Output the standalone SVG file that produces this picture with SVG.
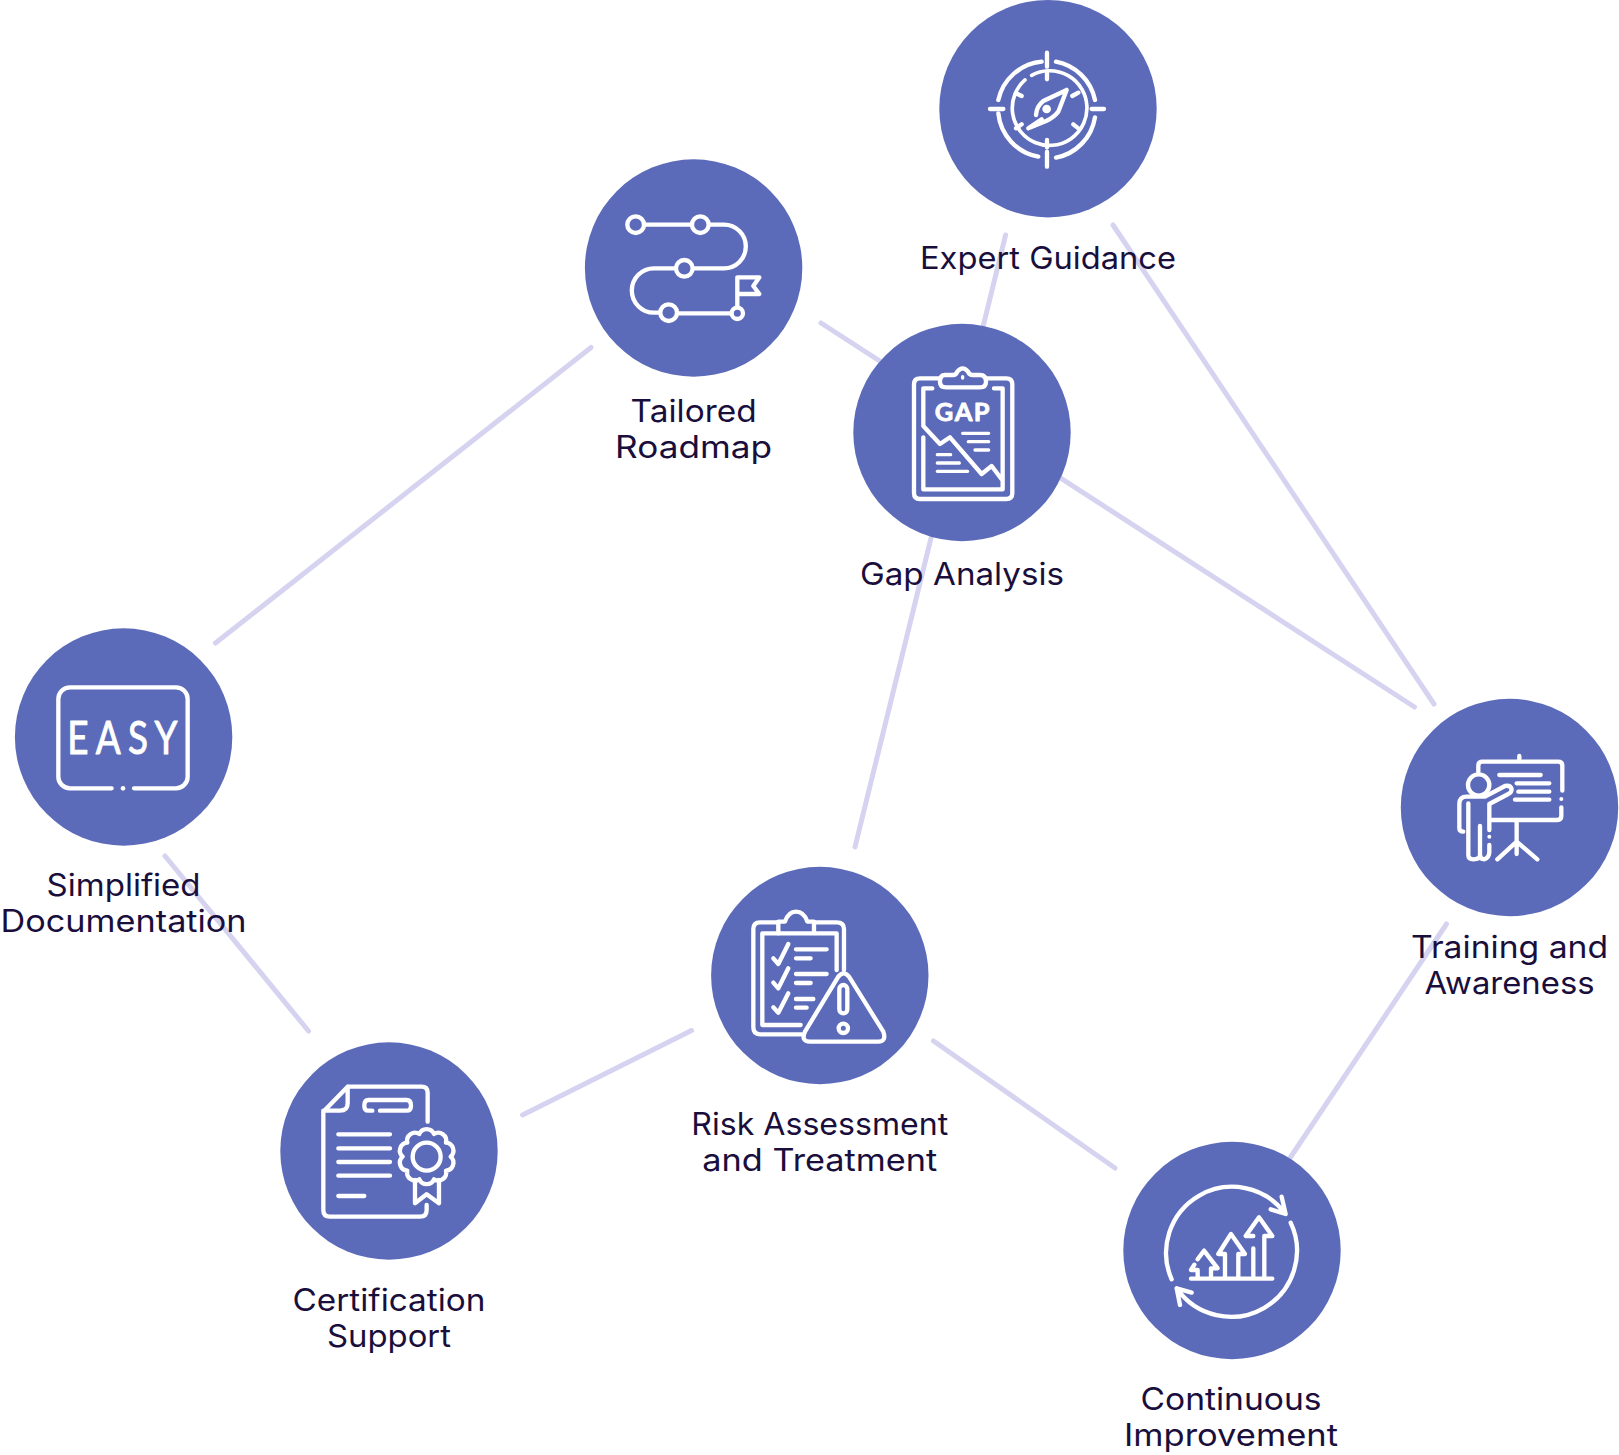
<svg xmlns="http://www.w3.org/2000/svg" width="1619" height="1455" viewBox="0 0 1619 1455">
<style>
.bg{fill:#fff}
.c{fill:#5c6bb9}
.conn line{stroke:#d5d3f0;stroke-width:5;stroke-linecap:round}
.i{fill:none;stroke:#fff;stroke-width:13;stroke-linecap:round;stroke-linejoin:round}
.d{fill:#fff;stroke:none}
.t{font-family:Inter,"Liberation Sans",sans-serif;font-size:31px;fill:#1a0f3c;text-anchor:middle}
.g{font-family:Lato,"Liberation Sans",sans-serif;fill:#fff;text-anchor:middle;stroke:#fff;stroke-linejoin:round}
</style>
<rect class="bg" width="1619" height="1455"/>
<g id="connectors" class="conn">
<line x1="1005.6" y1="235" x2="855" y2="847"/>
<line x1="1113" y1="225" x2="1434" y2="704"/>
<line x1="821" y1="323" x2="1414.5" y2="707"/>
<line x1="591" y1="347.5" x2="215.5" y2="643"/>
<line x1="165" y1="856" x2="308.5" y2="1031"/>
<line x1="522.5" y1="1115" x2="691.5" y2="1030.5"/>
<line x1="933.5" y1="1041" x2="1115" y2="1168"/>
<line x1="1446.5" y1="924" x2="1290" y2="1158"/>
</g>
<g id="expert-guidance">
<circle class="c" cx="1048" cy="108.7" r="108.7"/>
<g transform="translate(930 0) scale(.3333)" class="i">
<path d="M205,300A147,147 0 0 1 335,185M378,185A147,147 0 0 1 495,300M495,352A147,147 0 0 1 378,473M325,470A147,147 0 0 1 205,340"/>
<path d="M285,240A112,112 0 1 0 305,226" stroke-width="11"/>
<path d="M351,158V200M351,455V500M180,327H220M485,327H522M351,215V238M351,420V442M258,280L275,288M427,288L445,278M258,385L275,373M430,373L445,385"/>
<path d="M410,270L340,303Q320,318 318,345M410,270L385,335Q372,352 350,362L295,385M295,385L335,358"/>
<circle class="d" cx="350" cy="327" r="13"/>
</g>
<text class="t" x="1048" y="269" textLength="256" lengthAdjust="spacingAndGlyphs">Expert Guidance</text>
</g>
<g id="tailored-roadmap">
<circle class="c" cx="693.6" cy="268" r="108.7"/>
<g transform="translate(580 150) scale(.3333)" class="i">
<circle cx="167" cy="224" r="25"/><circle cx="361" cy="224" r="25"/><circle cx="313" cy="355" r="25"/><circle cx="266" cy="488" r="25"/><circle cx="472" cy="490" r="17"/>
<path d="M195,224H333M389,224H432A65.5,65.5 0 0 1 432,355H341M285,355H222A66.5,66.5 0 0 0 222,488H238M294,490H452M472,470V382H538L520,408L538,432H472"/>
</g>
<text class="t" x="693.6" y="421.5" textLength="126" lengthAdjust="spacingAndGlyphs">Tailored</text>
<text class="t" x="693.6" y="457.5" textLength="157" lengthAdjust="spacingAndGlyphs">Roadmap</text>
</g>
<g id="gap-analysis">
<circle class="c" cx="962" cy="432.5" r="108.7"/>
<g transform="translate(850 320) scale(.3333)" class="i">
<path d="M285,165H310Q318,165 322,155Q338,135 354,155Q358,165 368,165H390Q408,165 408,185Q408,202 390,202H288Q270,202 270,185Q270,165 285,165Z"/>
<path d="M270,175H210Q192,175 192,193V519Q192,537 210,537H469Q487,537 487,519V193Q487,175 469,175H408"/>
<path d="M247,205H220V318L270,372L300,352L395,462L425,438L455,478M220,352V508H458V205H432"/>
<path d="M338,340H416M355,365H416M375,390H416M262,404H302M262,429H328M262,454H353M338,170V174" stroke-width="10"/>
</g>
<text class="g" x="963" y="421" font-size="25.5" font-weight="700" stroke-width=".8" letter-spacing="1.5">GAP</text>
<text class="t" x="962" y="585" textLength="204" lengthAdjust="spacingAndGlyphs">Gap Analysis</text>
</g>
<g id="simplified-documentation">
<circle class="c" cx="123.6" cy="737" r="108.7"/>
<g transform="translate(10 625) scale(.3333)" class="i">
<path d="M305,490H180A35,35 0 0 1 145,455V222A35,35 0 0 1 180,187H498A35,35 0 0 1 533,222V455A35,35 0 0 1 498,490H372"/>
<circle class="d" cx="339" cy="490" r="7"/>
</g>
<text class="g" transform="translate(126 754) scale(.8 1)" font-size="46" stroke-width="1" letter-spacing="9">EASY</text>
<text class="t" x="123.6" y="896" textLength="154" lengthAdjust="spacingAndGlyphs">Simplified</text>
<text class="t" x="123.6" y="932" textLength="246" lengthAdjust="spacingAndGlyphs">Documentation</text>
</g>
<g id="training-awareness">
<circle class="c" cx="1509.5" cy="807.5" r="108.7"/>
<g transform="translate(1400 700) scale(.3333)" class="i">
<path d="M235,215V197Q235,185 247,185H475Q487,185 487,197V272M484,322V348Q484,360 472,360H272M358,168V185M350,360V462M350,425L292,478M350,425L412,478M298,225H422M350,250H448M355,275H448M345,299H448"/>
<circle cx="236" cy="255" r="32"/>
<path d="M240,290H200Q178,290 178,312V385Q178,395 190,395M205,310V465Q205,478 220,478Q240,478 240,465V378M240,465Q240,478 253,478Q268,472 268,455V435M268,390V312L325,282Q335,278 335,268Q332,255 315,258L255,290H240"/>
<circle class="d" cx="268" cy="410" r="6"/><circle class="d" cx="484" cy="297" r="6"/>
</g>
<text class="t" x="1509.6" y="958" textLength="197" lengthAdjust="spacingAndGlyphs">Training and</text>
<text class="t" x="1509.6" y="994" textLength="170" lengthAdjust="spacingAndGlyphs">Awareness</text>
</g>
<g id="risk-assessment">
<circle class="c" cx="819.8" cy="975.5" r="108.7"/>
<g transform="translate(710 870) scale(.3333)" class="i">
<path d="M205,157H150Q130,157 130,177V472Q130,493 150,493H275M315,157H380Q402,157 402,177V300M205,190H157V465H272M315,190H380V300"/>
<path d="M205,190V155H225Q235,125 258,125Q282,125 292,155H312V190Z"/>
<path d="M190,265L205,282L235,222M190,338L205,355L235,295M190,412L205,428L235,370M258,238H350M258,265H302M258,312H350M258,339H302M258,387H310M258,413H290"/>
<path d="M385,320Q401,300 417,320L520,485Q530,515 505,515H300Q272,515 285,485Z"/>
<rect x="388" y="345" width="24" height="85" rx="12"/><circle cx="400" cy="475" r="14"/>
</g>
<text class="t" x="819.8" y="1134.5" textLength="257" lengthAdjust="spacingAndGlyphs">Risk Assessment</text>
<text class="t" x="819.8" y="1170.5" textLength="235" lengthAdjust="spacingAndGlyphs">and Treatment</text>
</g>
<g id="certification-support">
<circle class="c" cx="389" cy="1151" r="108.7"/>
<g transform="translate(285 1045) scale(.3333)" class="i">
<path d="M188,125H410Q428,125 428,143V230M425,480V495Q425,515 405,515H135Q115,515 115,495V200L188,125V175Q188,197 165,197H115"/>
<path d="M262,197H250Q238,197 238,182Q238,165 250,165H365Q378,165 378,182Q378,197 365,197H285M160,268H315M160,310H315M160,351H315M160,392H315M160,453H238"/>
<path d="M497,335A24,24 0 0 1 483,377A24,24 0 0 1 447,403A24,24 0 0 1 403,403A24,24 0 0 1 367,377A24,24 0 0 1 353,335A24,24 0 0 1 367,293A24,24 0 0 1 403,267A24,24 0 0 1 447,267A24,24 0 0 1 483,293A24,24 0 0 1 497,335Z"/>
<circle cx="425" cy="335" r="42"/>
<path d="M390,405V475L425,448L462,475V405"/>
</g>
<text class="t" x="389" y="1311" textLength="193" lengthAdjust="spacingAndGlyphs">Certification</text>
<text class="t" x="389" y="1347" textLength="124" lengthAdjust="spacingAndGlyphs">Support</text>
</g>
<g id="continuous-improvement">
<circle class="c" cx="1232" cy="1250.5" r="108.7"/>
<g transform="translate(1125 1140) scale(.3333)" class="i">
<path d="M140,418A198,198 0 0 1 480,220M437,208L482,222L470,170M497,248A198,198 0 0 1 155,445M200,458L155,445L165,495"/>
<path d="M198,416H442M385,325V410M418,410V288H442L402,232L362,288H385M340,410V342H360L318,282L280,342H300V410M258,410V385H278L237,332L218,358M218,410V390H198L208,374"/>
</g>
<text class="t" x="1231" y="1410" textLength="181" lengthAdjust="spacingAndGlyphs">Continuous</text>
<text class="t" x="1231" y="1446" textLength="214" lengthAdjust="spacingAndGlyphs">Improvement</text>
</g>
</svg>
